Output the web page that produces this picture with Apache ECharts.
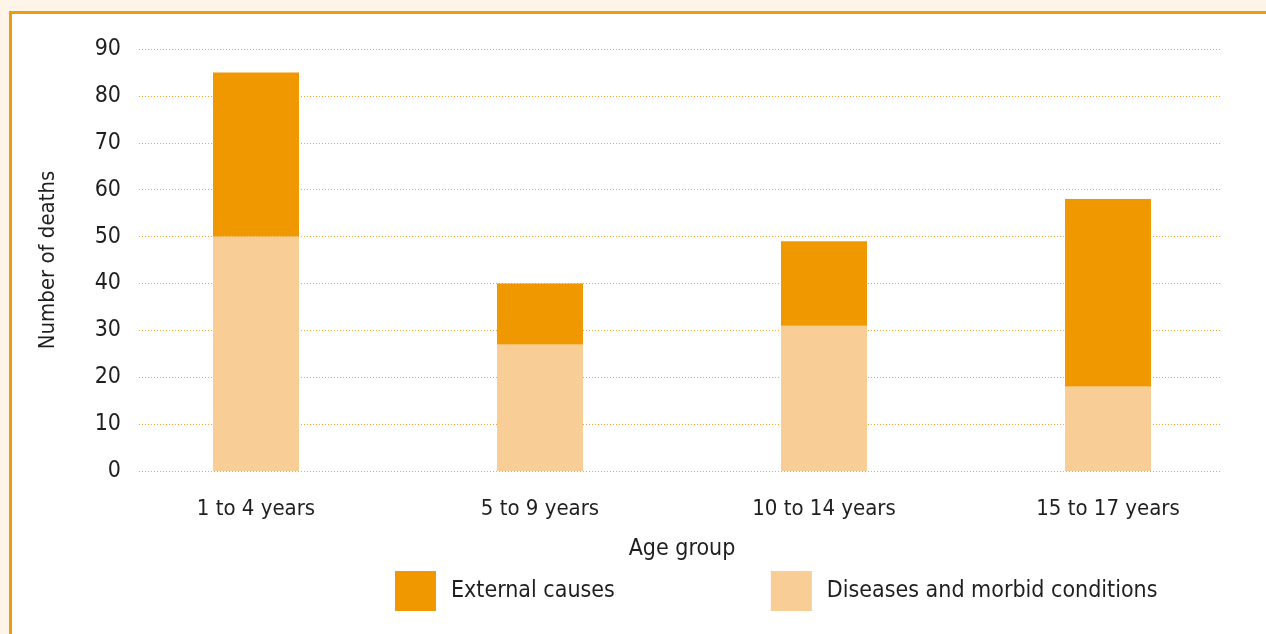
<!DOCTYPE html>
<html>
<head>
<meta charset="utf-8">
<script src="https://cdn.jsdelivr.net/npm/echarts@6/dist/echarts.min.js"></script>
<style>
  html, body { margin: 0; padding: 0; background: #FEF4E8; }
  #wrap { position: relative; width: 1266px; height: 634px; background: #FEF4E8; overflow: hidden; }
  #panel { position: absolute; left: 9px; top: 11px; width: 1400px; height: 800px; background: #fff; border-left: 3px solid #F09A0F; border-top: 3px solid #F09A0F; }
  #chart { position: absolute; left: 0; top: 0; width: 1266px; height: 634px; }
</style>
</head>
<body>
<div id="wrap">
  <div id="panel"></div>
  <div id="chart"></div>
</div>
<script>
const categories = ['1 to 4 years', '5 to 9 years', '10 to 14 years', '15 to 17 years'];
const diseases = [50, 27, 31, 18];
const external = [35, 13, 18, 40];
const yTicks = { min: 0, max: 90, interval: 10 };
const seriesNames = ['External causes', 'Diseases and morbid conditions'];

const FONT = "'Liberation Sans Narrow', 'DejaVu Sans Condensed', 'Liberation Sans', sans-serif";
const TXT = '#1f1f1f';

const chart = echarts.init(document.getElementById('chart'), null, { renderer: 'canvas' });
chart.setOption({
  backgroundColor: 'transparent',
  animation: false,
  textStyle: { fontFamily: FONT, color: TXT },
  grid: [
    { left: 114, width: 1136, top: 49, bottom: 163 },
    { left: 139, right: 46, top: 49, bottom: 163 }
  ],
  legend: {
    data: seriesNames,
    left: 390,
    top: 566,
    itemWidth: 41,
    itemHeight: 40,
    itemGap: 156,
    icon: 'rect',
    textStyle: { fontFamily: FONT, fontSize: 23, color: TXT, padding: [0, 0, 0, 10] }
  },
  xAxis: [
    {
      type: 'category', gridIndex: 0, data: categories,
      axisLine: { show: false }, axisTick: { show: false },
      axisLabel: { fontFamily: FONT, fontSize: 22, color: TXT, margin: 27 },
      name: 'Age group', nameLocation: 'middle', nameGap: 67,
      nameTextStyle: { fontFamily: FONT, fontSize: 23, color: TXT }
    },
    {
      type: 'value', gridIndex: 1, show: false, min: 0, max: 1
    }
  ],
  yAxis: [
    {
      type: 'value', gridIndex: 0, min: yTicks.min, max: yTicks.max, interval: yTicks.interval,
      show: false, splitLine: { show: false }
    },
    {
      type: 'value', gridIndex: 1, min: yTicks.min, max: yTicks.max, interval: yTicks.interval,
      axisLine: { show: false }, axisTick: { show: false },
      axisLabel: { fontFamily: FONT, fontSize: 23, color: TXT, margin: 18 },
      splitLine: { show: true, lineStyle: { color: '#F4A52E', type: [1, 2], width: 1 } },
      name: 'Number of deaths', nameLocation: 'middle', nameGap: 80, nameRotate: 90,
      nameTextStyle: { fontFamily: FONT, fontSize: 22, color: TXT }
    }
  ],
  series: [
    {
      name: seriesNames[1], type: 'bar', stack: 'total', xAxisIndex: 0, yAxisIndex: 0,
      data: diseases, barWidth: 86, itemStyle: { color: '#F8CE96' }
    },
    {
      name: seriesNames[0], type: 'bar', stack: 'total', xAxisIndex: 0, yAxisIndex: 0,
      data: external, barWidth: 86, itemStyle: { color: '#EF9800' }
    }
  ]
});
</script>
</body>
</html>
